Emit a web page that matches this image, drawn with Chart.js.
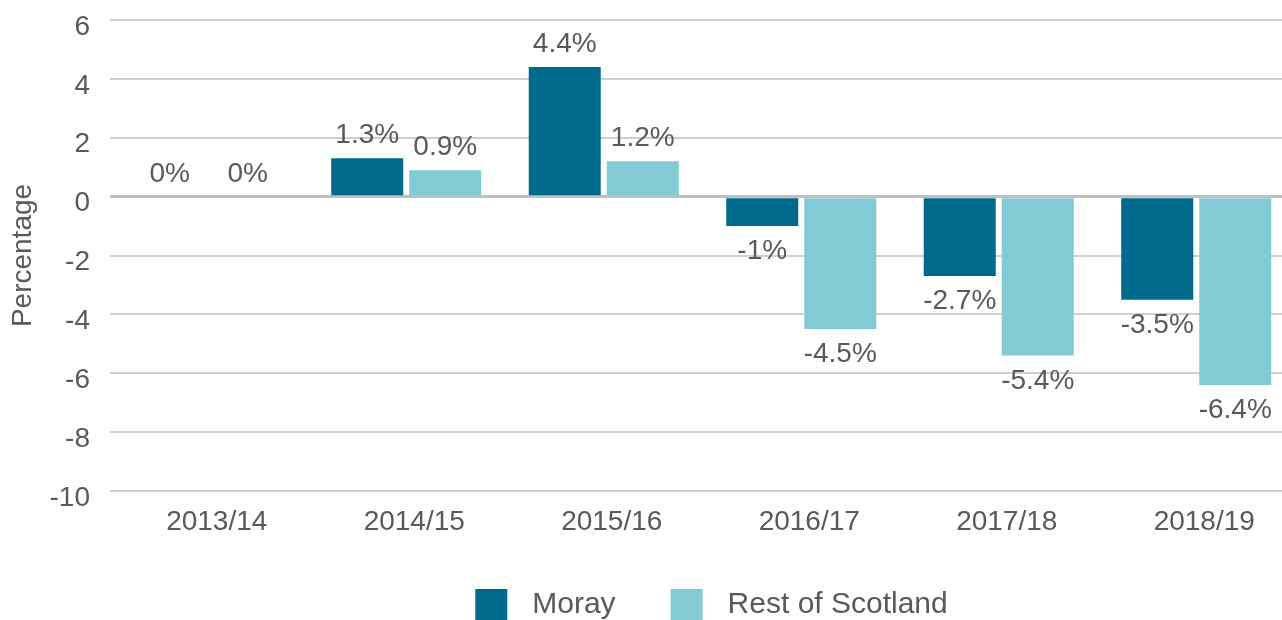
<!DOCTYPE html>
<html>
<head>
<meta charset="utf-8">
<script src="https://cdn.jsdelivr.net/npm/chart.js@4"></script>
<style>
  html, body { margin: 0; padding: 0; overflow: hidden; background: #ffffff; }
  #wrap { position: relative; width: 1296px; height: 630px; }
</style>
</head>
<body>
<div id="wrap"><canvas id="c"></canvas></div>
<script>
const categories = ['2013/14', '2014/15', '2015/16', '2016/17', '2017/18', '2018/19'];
const seriesNames = ['Moray', 'Rest of Scotland'];
const morayValues = [0, 1.3, 4.4, -1, -2.7, -3.5];
const restValues = [0, 0.9, 1.2, -4.5, -5.4, -6.4];
const yTicks = [6, 4, 2, 0, -2, -4, -6, -8, -10];

const FONT = "'Liberation Sans', Arial, sans-serif";
const TEXT = '#595959';

// legend swatch: 32x32 square, with transparent margin on the left
function makeSwatch(color) {
  const cv = document.createElement('canvas');
  cv.width = 60; cv.height = 32;
  const g = cv.getContext('2d');
  g.fillStyle = color;
  g.fillRect(18, 0, 32, 32);
  return cv;
}

const valueLabels = {
  id: 'valueLabels',
  afterDatasetsDraw(chart) {
    const ctx = chart.ctx;
    ctx.save();
    ctx.font = '28px ' + FONT;
    ctx.fillStyle = TEXT;
    ctx.textAlign = 'center';
    ctx.textBaseline = 'alphabetic';
    chart.data.datasets.forEach((ds, di) => {
      const meta = chart.getDatasetMeta(di);
      meta.data.forEach((bar, i) => {
        const v = ds.data[i];
        const txt = v + '%';
        const y = v >= 0 ? bar.y - 15 : bar.y + 33;
        ctx.fillText(txt, bar.x, y);
      });
    });
    ctx.restore();
  }
};

new Chart(document.getElementById('c'), {
  type: 'bar',
  data: {
    labels: categories,
    datasets: [
      { label: seriesNames[0], data: morayValues, backgroundColor: '#006a8c', borderWidth: 0 },
      { label: seriesNames[1], data: restValues, backgroundColor: '#82cbd4', borderWidth: 0 }
    ]
  },
  options: {
    responsive: true,
    maintainAspectRatio: false,
    animation: false,
    devicePixelRatio: 1,
    categoryPercentage: 0.79,
    barPercentage: 0.923,
    layout: { padding: { left: 2, top: 20, right: 1, bottom: 0 } },
    plugins: {
      tooltip: { enabled: false },
      legend: {
        position: 'bottom',
        fullSize: false,
        labels: {
          usePointStyle: true,
          pointStyleWidth: 60,
          boxWidth: 32,
          boxHeight: 32,
          padding: 37,
          color: TEXT,
          font: { family: FONT, size: 30 },
          generateLabels(chart) {
            const items = Chart.defaults.plugins.legend.labels.generateLabels(chart);
            items.forEach(it => {
              it.pointStyle = makeSwatch(chart.data.datasets[it.datasetIndex].backgroundColor);
            });
            return items;
          }
        }
      }
    },
    scales: {
      x: {
        grid: { display: false, drawTicks: false },
        border: { display: false },
        ticks: {
          color: TEXT,
          font: { family: FONT, size: 28 },
          padding: 14,
          labelOffset: 8,
          maxRotation: 0
        },
        afterFit(axis) { axis.height = 62; }
      },
      y: {
        min: -10,
        max: 6,
        afterBuildTicks(axis) { axis.ticks = yTicks.map(v => ({ value: v })); },
        grid: {
          drawTicks: false,
          color: (c) => (c.tick && c.tick.value === 0) ? '#bfbfbf' : '#cfcfcf',
          lineWidth: (c) => (c.tick && c.tick.value === 0) ? 3 : 2
        },
        border: { display: false },
        ticks: {
          color: TEXT,
          font: { family: FONT, size: 28 },
          padding: 20,
          labelOffset: 7
        },
        title: {
          display: true,
          text: 'Percentage',
          color: TEXT,
          font: { family: FONT, size: 28 },
          padding: { top: 4, bottom: 4 }
        },
        afterFit(axis) {
          axis.width = 108;
          axis.paddingTop = 0;
          axis.paddingBottom = 0;
        }
      }
    }
  },
  plugins: [valueLabels]
});
</script>
</body>
</html>
